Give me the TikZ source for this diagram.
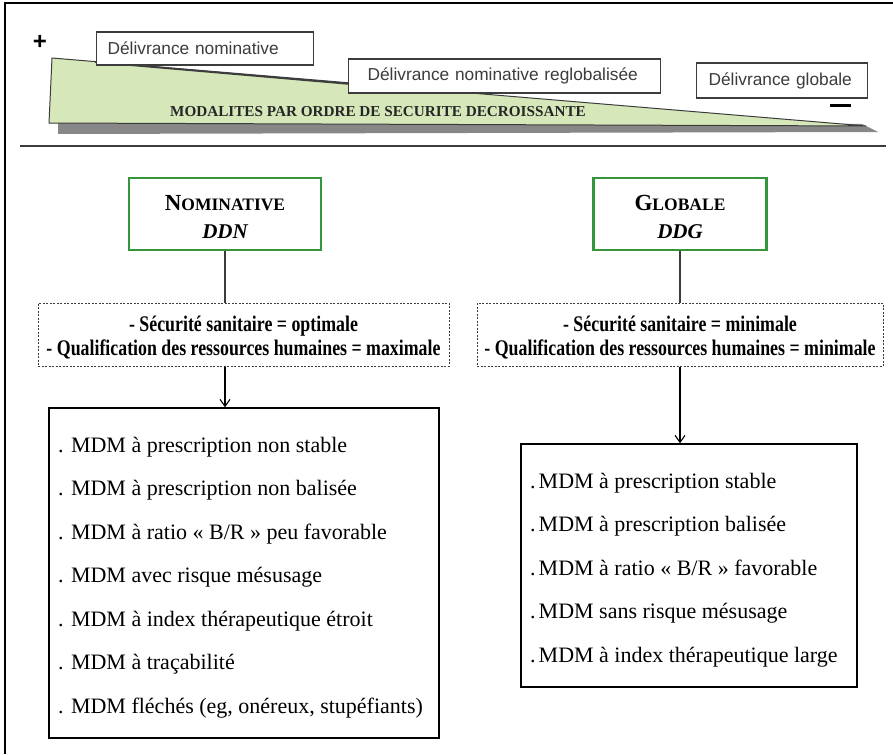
\documentclass[tikz,border=0pt]{standalone}
\usepackage{fontspec}
\setmainfont{Liberation Serif}
\newfontfamily\labelsans{Liberation Sans}
\newfontfamily\condserif[FakeStretch=0.8]{Liberation Serif}
\usetikzlibrary{arrows.meta}
\definecolor{wedgegreen}{RGB}{214,232,186}
\definecolor{boxgreen}{RGB}{52,150,60}
\definecolor{darkgray}{RGB}{60,60,60}
\definecolor{shadowgray}{RGB}{135,135,135}
\tikzset{
  levelbox/.style={draw=darkgray, line width=1.2pt, fill=white, inner ysep=0pt,
    align=left, anchor=west, text=darkgray, font=\labelsans\fontsize{17.3}{19}\selectfont},
  modebox/.style={draw=boxgreen, line width=2.2pt, fill=white, inner sep=0pt,
    align=center, font=\bfseries\fontsize{21}{28}\selectfont},
  critbox/.style={draw=darkgray, dashed, dash pattern=on 2pt off 1.5pt, line width=1pt,
    inner sep=0pt, align=center, font=\condserif\bfseries\fontsize{22.3}{24.5}\selectfont},
  listbox/.style={draw=black, line width=1.4pt, inner sep=0pt},
  listtxt/.style={anchor=base west, inner sep=0pt, font=\fontsize{22}{26}\selectfont},
  link/.style={draw=darkgray, line width=1.1pt},
  arrowlink/.style={draw=black, line width=1.1pt, -{Straight Barb[length=7pt,width=10pt]}},
}
\begin{document}
\begin{tikzpicture}[x=1pt,y=-1pt]
\useasboundingbox (0,0) rectangle (893,754);
% outer frame
\draw[line width=1.4pt] (893,3) -- (5,3) -- (5,754);

% decreasing-security wedge with its shadow
\fill[shadowgray] (58,122) -- (862,124) -- (878,132) -- (58,134) -- cycle;
\filldraw[fill=wedgegreen, draw=darkgray, line width=1pt]
  (52,58) -- (866,126) -- (49,123) -- cycle;
\draw[line width=1.8pt, darkgray] (95,62) -- (350,84);
\node[font=\bfseries\fontsize{15.2}{16}\selectfont, text=black!85] (modal) at (378,112)
  {MODALITES PAR ORDRE DE SECURITE DECROISSANTE};
\node[font=\labelsans\bfseries\fontsize{24}{24}\selectfont] (plus) at (40,42) {+};
\draw[line width=3pt] (830,106) -- (851,106);

% dispensing levels, from most to least secure
\node[levelbox, inner xsep=11pt, text width=195pt, minimum height=33pt] (dn) at (96,48.5) {Délivrance nominative};
\node[levelbox, inner xsep=19pt, text width=274pt, minimum height=34pt] (dnr) at (348,76) {Délivrance nominative reglobalisée};
\node[levelbox, inner xsep=12pt, text width=147pt, minimum height=35pt] (dg) at (696,80.5) {Délivrance globale};

% separator
\draw[darkgray, line width=1.6pt] (20,146) -- (886,146);

% the two dispensing modes
\node[modebox, minimum width=192pt, minimum height=72pt] (nom) at (225,214)
  {\rule{0pt}{22pt}{\fontsize{23}{28}\selectfont N}{\fontsize{17.5}{28}\selectfont OMINATIVE}\\
   {\itshape DDN}};
\node[modebox, minimum width=173pt, minimum height=72pt] (glob) at (680,214)
  {\rule{0pt}{22pt}{\fontsize{23}{28}\selectfont G}{\fontsize{17.5}{28}\selectfont LOBALE}\\
   {\itshape DDG}};

\node[critbox, minimum width=411pt, minimum height=63pt] (cn) at (243.5,334.5)
  {\rule{0pt}{22pt}- Sécurité sanitaire = optimale\\- Qualification des ressources humaines = maximale};
\node[critbox, minimum width=406pt, minimum height=63pt] (cg) at (680,334.5)
  {\rule{0pt}{22pt}- Sécurité sanitaire = minimale\\- Qualification des ressources humaines = minimale};

\node[listbox, minimum width=390pt, minimum height=330pt] (ln) at (244,573) {};
\node[listbox, minimum width=336pt, minimum height=243pt] (lg) at (689,565.5) {};

\draw[link] (nom.south) -- (cn.north -| nom.south);
\draw[link] (glob.south) -- (cg.north -| glob.south);
\draw[arrowlink] (cn.south -| nom.south) -- (ln.north -| nom.south);
\draw[arrowlink] (cg.south -| glob.south) -- (lg.north -| glob.south);

% list of medicines, nominative dispensing
\foreach \t [count=\i] in {
  . MDM à prescription non stable,
  . MDM à prescription non balisée,
  . MDM à ratio « B/R » peu favorable,
  . MDM avec risque mésusage,
  . MDM à index thérapeutique étroit,
  . MDM à traçabilité,
  {. MDM fléchés (eg, onéreux, stupéfiants)}}
  \node[listtxt] (n\i) at (58,{452+43.5*(\i-1)}) {\t};

% list of medicines, global dispensing
\foreach \t [count=\i] in {
  MDM à prescription stable,
  MDM à prescription balisée,
  MDM à ratio « B/R » favorable,
  MDM sans risque mésusage,
  MDM à index thérapeutique large}
  \node[listtxt] (g\i) at (530,{488+43.6*(\i-1)}) {.\hspace{3pt}\t};
\end{tikzpicture}
\end{document}
